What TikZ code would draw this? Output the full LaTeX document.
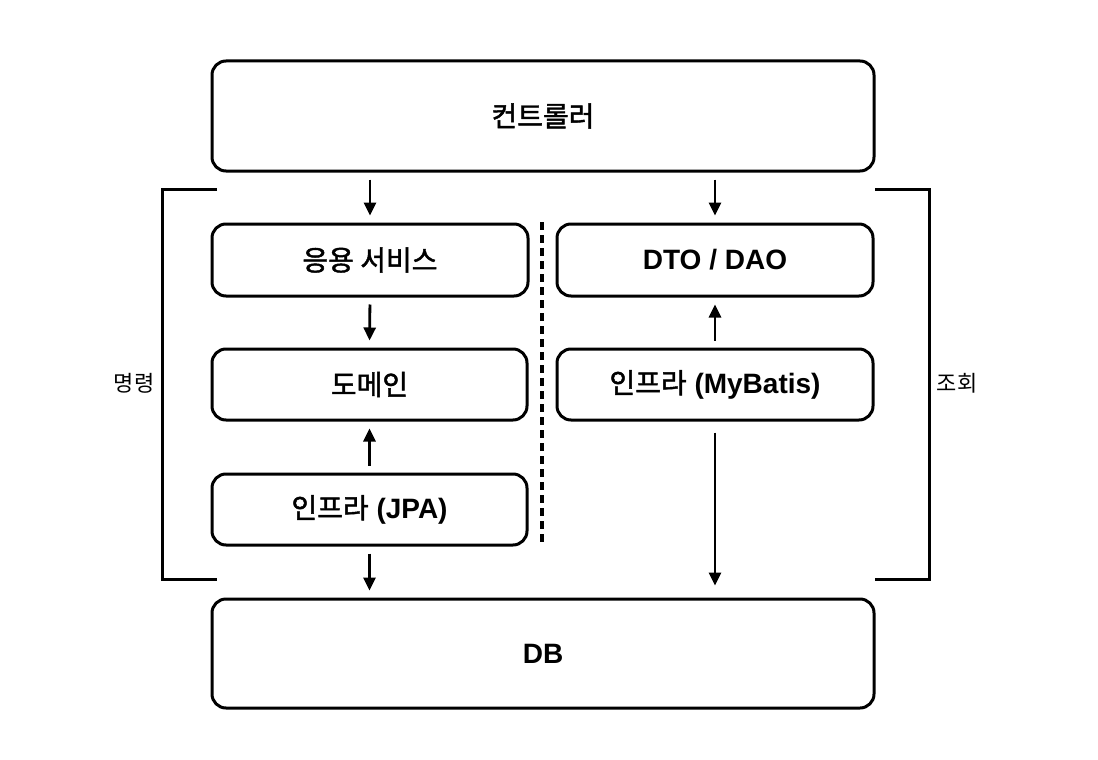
\documentclass[tikz,border=0pt]{standalone}
\usepackage{fontspec}
\setmainfont{Liberation Sans}
\newfontfamily\kr{Noto Sans CJK KR}
\newfontfamily\krm[FakeBold=1.6]{Noto Sans CJK KR}
\newfontfamily\lat{Liberation Sans}
\usetikzlibrary{arrows.meta}
\begin{document}
\begin{tikzpicture}[x=1pt,y=-1pt,
  box/.style={draw,line width=3pt,rounded corners=14pt,inner sep=0pt,font=\fontsize{28}{32}\selectfont},
  arr/.style={line width=2.8pt,-{Triangle[length=13pt,width=12pt]},shorten <=7pt,shorten >=7pt},
  brk/.style={line width=3pt},
  side/.style={font=\kr\fontsize{22}{26}\selectfont}]
\useasboundingbox (0,0) rectangle (1098,760);
\node[box,minimum width=662pt,minimum height=110pt] (ctrl) at (543,116) {\krm 컨트롤러};
\node[box,minimum width=316pt,minimum height=72pt] (svc) at (370,260) {\krm 응용 서비스};
\node[box,minimum width=315pt,minimum height=71pt] (dom) at (369.5,384.5) {\krm 도메인};
\node[box,minimum width=315pt,minimum height=71pt] (jpa) at (369.5,509.5) {{\krm 인프라} {\lat\bfseries (JPA)}};
\node[box,minimum width=316pt,minimum height=72pt] (dto) at (715,260) {\lat\bfseries DTO / DAO};
\node[box,minimum width=316pt,minimum height=71pt] (mb) at (715,384.5) {{\krm 인프라} {\lat\bfseries (MyBatis)}};
\node[box,minimum width=662pt,minimum height=109pt] (db) at (543,653.5) {\lat\bfseries DB};
\draw[arr] (svc.north |- ctrl.south) -- (svc.north);
\draw[arr] (dto.north |- ctrl.south) -- (dto.north);
\draw[arr] (svc.south) -- (dom.north);
\draw[arr] (jpa.north) -- (dom.south);
\draw[arr] (mb.north) -- (dto.south);
\draw[arr] (jpa.south) -- (jpa.south |- db.north);
\draw[arr,shorten <=11pt,shorten >=12pt] (mb.south) -- (mb.south |- db.north);
\coordinate (dtop) at (542,222);
\coordinate (dbot) at (542,545);
\draw[line width=4pt,dash pattern=on 8pt off 5pt] (dtop) -- (dbot);
\coordinate (l1) at (217,189);
\coordinate (l2) at (162,189);
\coordinate (l3) at (162,579);
\coordinate (l4) at (217,579);
\draw[brk] (l1) -- (l2) -- (l3) -- (l4);
\coordinate (r1) at (875,189);
\coordinate (r2) at (929,189);
\coordinate (r3) at (929,579);
\coordinate (r4) at (875,579);
\draw[brk] (r1) -- (r2) -- (r3) -- (r4);
\node[side] (cmd) at (134,383) {명령};
\node[side] (qry) at (957,383) {조회};
\end{tikzpicture}
\end{document}
